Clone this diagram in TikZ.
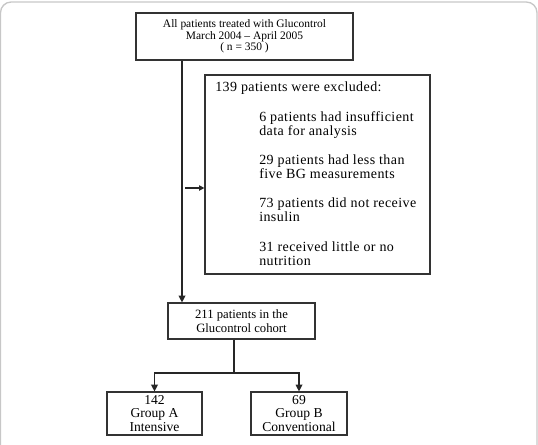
\documentclass[tikz,border=0pt]{standalone}
\usepackage{fontspec}
\setmainfont{Liberation Serif}
\newfontfamily\spacedfont[LetterSpace=3]{Liberation Serif}
\usetikzlibrary{arrows.meta}

\tikzset{
	box/.style={draw=black!80,line width=0.9pt,inner sep=0pt,align=center,font=\fontsize{9.5}{10}\selectfont},
	item/.style={anchor=base west,align=left,inner sep=0pt,font=\spacedfont\fontsize{10.5}{10.5}\selectfont},
	link/.style={draw=black!85,line width=0.9pt,-{Triangle[length=5pt,width=5pt]}},
}

\begin{document}
\begin{tikzpicture}[x=0.75pt,y=-0.75pt]
		\useasboundingbox (0,0) rectangle (538,444);
		\draw[black!22,line width=1pt,rounded corners=8pt] (0.5,2) rectangle (537,470);
		
		\node[box,font=\fontsize{8.6}{8.5}\selectfont,minimum width=162.75pt,minimum height=35.25pt](all)at(244.5,36.5) {All patients treated with Glucontrol\\March 2004 -- April 2005\\( n = 350 )};
		\node[box,minimum width=168.75pt,minimum height=149.25pt](excl)at(317.5,174.5) {};
		\node[box,minimum width=110.25pt,minimum height=27pt](cohort)at(241.5,321) {211 patients in the\\Glucontrol cohort};
		\node[box,font=\fontsize{10.2}{10.2}\selectfont,minimum width=71.25pt,minimum height=32.25pt](grpA)at(154.5,413.5) {142\\Group A\\Intensive};
		\node[box,font=\fontsize{10.2}{10.2}\selectfont,minimum width=72pt,minimum height=32.25pt](grpB)at(299,413.5) {69\\Group B\\Conventional};
		
		% base anchor sits on the last line
		\node[item](head)at(215,91) {139 patients were excluded:};
		\node[item](ex1)at(259,135) {6 patients had insufficient\\data for analysis};
		\node[item](ex2)at(259,178) {29 patients had less than\\five BG measurements};
		\node[item](ex3)at(259,221) {73 patients did not receive\\insulin};
		\node[item](ex4)at(259,265) {31 received little or no\\nutrition};
		
		\coordinate(spine)at(182,0);
		\coordinate(branch)at(185,188);
		\coordinate(fork)at(234,373);
		
		\draw[link](all.south -| spine) -- (cohort.north -| spine);
		\draw[link,-{Triangle[length=4pt,width=4pt]}](branch) -- (branch -| excl.west);
		\draw[draw=black!85,line width=0.9pt](cohort.south -| fork) -- (fork);
		\draw[link](fork) -| (grpA.north);
		\draw[link](fork) -| (grpB.north);
	\end{tikzpicture}
\end{document}
